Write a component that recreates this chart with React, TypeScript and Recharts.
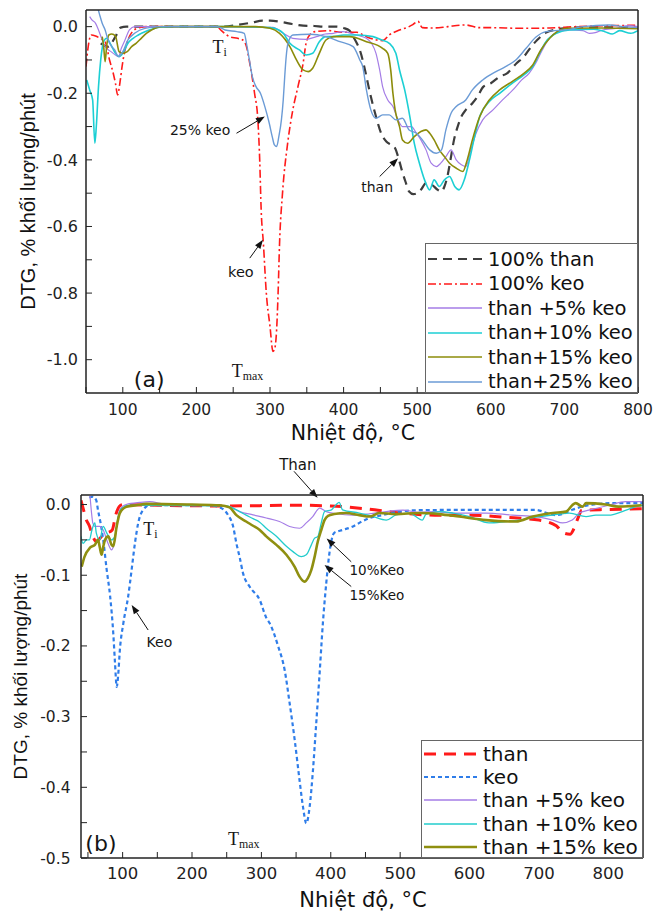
import React from 'react';
import { LineChart, Line, XAxis, YAxis, ReferenceDot, ReferenceLine, Legend } from 'recharts';

type Pt = [number, number];

// ---- panel (a): temperature (°C), DTG (%/min)
const aThan: Pt[] = [
  [70, -0.05], [80, -0.06], [90, -0.03], [97, -0.003], [105, 0], [150, 0], [232, 0], [255, 0.005],
  [275, 0.012], [290, 0.018], [300, 0.018], [315, 0.014], [330, 0.008], [345, 0.003], [360, 0.002],
  [375, 0], [390, 0], [400, -0.004], [408, -0.012], [413, -0.03], [418, -0.05], [422, -0.07],
  [427, -0.11], [431, -0.15], [437, -0.21], [444, -0.27], [451, -0.32], [458, -0.345], [465, -0.355],
  [470, -0.365], [474, -0.39], [479, -0.43], [484, -0.465], [489, -0.495], [495, -0.503], [500, -0.5],
  [505, -0.49], [512, -0.47], [520, -0.475], [528, -0.49], [533, -0.495], [537, -0.48], [541, -0.45],
  [546, -0.39], [550, -0.34], [555, -0.3], [560, -0.27], [566, -0.25], [575, -0.23], [582, -0.21],
  [590, -0.18], [600, -0.17], [612, -0.15], [622, -0.14], [635, -0.11], [645, -0.09], [655, -0.06],
  [663, -0.04], [675, -0.018], [690, -0.008], [710, -0.003], [750, -0.002], [800, -0.002],
];
const aKeo: Pt[] = [
  [50, -0.12], [53, -0.06], [57, -0.025], [63, -0.028], [69, -0.035], [76, -0.045], [82, -0.1],
  [87, -0.14], [90, -0.17], [93, -0.205], [96, -0.17], [99, -0.12], [102, -0.08], [107, -0.04],
  [113, -0.015], [120, -0.005], [132, 0], [180, 0], [228, 0], [234, -0.012], [245, -0.03], [256, -0.035],
  [263, -0.04], [268, -0.06], [272.5, -0.11], [279, -0.2], [283.5, -0.28], [286, -0.4], [288, -0.55],
  [291, -0.65], [295, -0.8], [300, -0.9], [304, -0.975], [306, -0.97], [309, -0.91], [311, -0.8],
  [313, -0.65], [317, -0.5], [324, -0.35], [331, -0.25], [338, -0.18], [345, -0.11], [349, -0.05],
  [354, -0.025], [361, -0.015], [380, -0.012], [396, -0.017], [418, -0.017], [431, -0.03], [445, -0.04],
  [453, -0.042], [462, -0.025], [476, -0.01], [489, 0], [494, 0.006], [501, 0.016], [507, -0.003],
  [521, -0.004], [535, -0.002], [548, 0.002], [566, 0.005], [584, -0.003], [600, -0.003], [640, -0.005],
  [680, -0.004], [715, 0], [760, 0.003], [800, 0.004],
];
const aMix5: Pt[] = [
  [55, 0.03], [58, 0.02], [63, 0.01], [67, -0.01], [72, -0.04], [76, -0.06], [84, -0.075], [90, -0.085],
  [94, -0.09], [98, -0.065], [103, -0.04], [109, -0.01], [116, 0], [200, 0], [290, -0.002], [304, -0.002],
  [318, -0.02], [331, -0.035], [349, -0.038], [363, -0.03], [375, -0.022], [386, -0.02], [399, -0.015],
  [417, -0.025], [431, -0.035], [438, -0.05], [444, -0.08], [449, -0.13], [453, -0.18], [460, -0.22],
  [467, -0.24], [474, -0.28], [480, -0.3], [492, -0.3], [499, -0.32], [505, -0.34], [512, -0.37],
  [519, -0.41], [526, -0.42], [532, -0.41], [539, -0.39], [546, -0.37], [553, -0.4], [560, -0.415],
  [566, -0.42], [573, -0.37], [580, -0.32], [589, -0.28], [603, -0.25], [616, -0.22], [630, -0.19],
  [642, -0.16], [652, -0.14], [661, -0.11], [670, -0.07], [680, -0.034], [693, -0.015], [707, -0.01],
  [725, -0.012], [734, -0.02], [742, -0.018], [752, -0.01], [770, -0.005], [788, 0.003], [800, 0],
];
const aMix10: Pt[] = [
  [51, -0.16], [55, -0.19], [59, -0.22], [62, -0.35], [64, -0.3], [67, -0.18], [70, -0.1], [74, -0.045],
  [78, -0.035], [84, -0.055], [90, -0.08], [95, -0.09], [100, -0.08], [107, -0.05], [114, -0.035],
  [121, -0.025], [130, -0.015], [139, -0.008], [150, -0.002], [170, 0], [250, 0], [300, -0.003],
  [312, -0.01], [318, -0.02], [327, -0.05], [340, -0.07], [349, -0.085], [358, -0.08], [367, -0.045],
  [376, -0.03], [386, -0.03], [400, -0.025], [420, -0.025], [440, -0.03], [452, -0.04], [462, -0.05],
  [471, -0.08], [476, -0.13], [483, -0.19], [490, -0.27], [496, -0.35], [503, -0.41], [510, -0.46],
  [517, -0.49], [523, -0.46], [530, -0.48], [537, -0.46], [544, -0.45], [551, -0.48], [557, -0.49],
  [564, -0.46], [571, -0.4], [578, -0.33], [585, -0.27], [598, -0.225], [612, -0.2], [629, -0.17],
  [645, -0.145], [657, -0.12], [665, -0.085], [675, -0.045], [689, -0.02], [707, -0.01], [740, -0.008],
  [755, -0.015], [765, -0.022], [775, -0.012], [790, -0.02], [800, -0.012],
];
const aMix15: Pt[] = [
  [72, -0.03], [74, -0.06], [76, -0.105], [78, -0.06], [81, -0.025], [85, -0.022], [90, -0.028],
  [95, -0.075], [100, -0.08], [106, -0.075], [112, -0.06], [118, -0.05], [125, -0.035], [132, -0.02],
  [139, -0.01], [153, 0], [280, 0], [300, -0.005], [313, -0.02], [327, -0.06], [336, -0.1], [345, -0.13],
  [352, -0.135], [358, -0.125], [367, -0.08], [376, -0.04], [386, -0.03], [408, -0.03], [431, -0.045],
  [453, -0.065], [460, -0.08], [464, -0.13], [467, -0.2], [470, -0.25], [476, -0.3], [480, -0.34],
  [487, -0.35], [496, -0.33], [505, -0.315], [512, -0.31], [517, -0.32], [523, -0.34], [530, -0.37],
  [537, -0.39], [544, -0.41], [553, -0.425], [562, -0.435], [568, -0.4], [575, -0.34], [585, -0.27],
  [598, -0.22], [612, -0.19], [629, -0.165], [645, -0.14], [657, -0.115], [668, -0.07], [680, -0.035],
  [690, -0.015], [703, -0.005], [750, -0.004], [800, -0.006],
];
const aMix25: Pt[] = [
  [60, 0.09], [64, 0.07], [68, 0.04], [72, 0.01], [76, -0.01], [80, -0.04], [85, -0.06], [89, -0.07],
  [94, -0.09], [100, -0.075], [107, -0.04], [116, -0.02], [130, -0.005], [150, 0], [229, 0],
  [239, -0.01], [255, -0.015], [265, -0.02], [268, -0.05], [272, -0.1], [276, -0.15], [281, -0.18],
  [287, -0.2], [293, -0.24], [299, -0.29], [303, -0.33], [306, -0.355], [309, -0.36], [312, -0.33],
  [315.5, -0.28], [318, -0.22], [320, -0.15], [322, -0.09], [324.5, -0.05], [331, -0.025], [354, -0.023],
  [376, -0.03], [395, -0.045], [413, -0.06], [422, -0.1], [426, -0.12], [431, -0.19], [437, -0.25],
  [444, -0.275], [453, -0.265], [462, -0.265], [471, -0.28], [480, -0.275], [489, -0.31], [499, -0.32],
  [507, -0.34], [517, -0.37], [526, -0.38], [533, -0.37], [539, -0.31], [546, -0.26], [553, -0.24],
  [566, -0.22], [575, -0.19], [589, -0.16], [607, -0.135], [620, -0.12], [634, -0.1], [648, -0.065],
  [661, -0.032], [675, -0.015], [707, -0.008], [725, 0], [761, 0.005], [780, 0], [800, -0.003],
];

// ---- panel (b)
const bThan: Pt[] = [
  [40, 0.006], [43, -0.005], [47, -0.02], [52, -0.03], [57, -0.045], [62, -0.052], [70, -0.045],
  [78, -0.04], [85, -0.036], [90, -0.015], [95, -0.003], [100, 0], [150, -0.001], [250, -0.002],
  [350, -0.001], [400, -0.002], [450, -0.006], [500, -0.012], [550, -0.015], [600, -0.015],
  [650, -0.018], [700, -0.022], [725, -0.03], [735, -0.04], [745, -0.042], [750, -0.035], [756, -0.02],
  [762, -0.008], [800, -0.007], [850, -0.006],
];
const bKeo: Pt[] = [
  [52, 0.01], [57, 0.011], [62, 0.006], [64.5, -0.008], [68, -0.025], [72, -0.05], [77, -0.092],
  [82, -0.13], [86.5, -0.182], [89, -0.224], [91.5, -0.258], [93.7, -0.24], [96, -0.206], [101, -0.168],
  [108, -0.13], [113, -0.092], [117.7, -0.055], [122.5, -0.026], [129.6, -0.0075], [139, -0.001],
  [225, -0.001], [240, -0.004], [252, -0.015], [259, -0.03], [264, -0.055], [268.8, -0.075],
  [273.5, -0.097], [283, -0.116], [297.6, -0.135], [307, -0.16], [312, -0.168], [324, -0.2],
  [333.5, -0.234], [340.7, -0.281], [348, -0.333], [355, -0.39], [360, -0.428], [364.7, -0.451],
  [369.5, -0.428], [374, -0.38], [379, -0.31], [383.9, -0.239], [388.6, -0.168], [393.5, -0.111],
  [398, -0.069], [405, -0.04], [417, -0.036], [432, -0.031], [441, -0.026], [456, -0.019],
  [474.5, -0.015], [499, -0.01], [528, -0.008], [600, -0.0075], [695, -0.0075], [712, -0.012],
  [725, -0.015], [735, -0.013], [748, -0.0075], [777, 0], [806, 0.002], [850, 0.002],
];
const bMix5: Pt[] = [
  [53, 0.012], [55, -0.01], [57, -0.026], [60, -0.031], [67, -0.031], [72, -0.036], [79, -0.055],
  [84, -0.064], [87, -0.058], [91.4, -0.031], [96, -0.0075], [105, 0], [125, 0.003], [139, 0.004],
  [160, 0.001], [200, 0], [240, -0.001], [254, -0.003], [268.8, -0.01], [288, -0.0146], [307, -0.019],
  [326, -0.024], [340.7, -0.031], [355, -0.0335], [364.7, -0.026], [374, -0.017], [383.9, -0.005],
  [393.5, -0.01], [408, -0.013], [432, -0.015], [456, -0.013], [480, -0.01], [504, -0.008],
  [528, -0.011], [552, -0.01], [576, -0.012], [624, -0.012], [662, -0.015], [696, -0.017],
  [720, -0.022], [734, -0.026], [748, -0.022], [758, -0.012], [772, -0.008], [801, -0.001],
  [825, 0.004], [850, 0.004],
];
const bMix10: Pt[] = [
  [40, -0.045], [43, -0.055], [48, -0.05], [52, -0.05], [56, -0.035], [60, -0.026], [62, -0.04],
  [67, -0.05], [72, -0.031], [77, -0.04], [84, -0.05], [89, -0.045], [93.7, -0.017], [98.5, -0.0055],
  [110, -0.001], [250, -0.002], [264, -0.0075], [278, -0.015], [288, -0.02], [297.6, -0.025],
  [307, -0.0335], [321.6, -0.045], [336, -0.059], [345.5, -0.0666], [357.5, -0.0737], [364.7, -0.071],
  [372, -0.057], [376.7, -0.0476], [381.4, -0.045], [386.3, -0.026], [391, -0.01], [401, -0.0075],
  [408, 0], [412, 0.003], [417, -0.0075], [441, -0.012], [460, -0.0167], [480, -0.022], [494, -0.0146],
  [513, -0.012], [532, -0.022], [537, -0.014], [556, -0.01], [576, -0.012], [600, -0.017], [628, -0.026],
  [652, -0.024], [671, -0.022], [700, -0.017], [720, -0.015], [744, -0.012], [768, -0.017],
  [782, -0.015], [801, -0.015], [820, -0.01], [840, -0.003], [850, -0.001],
];
const bMix15: Pt[] = [
  [41, -0.088], [45, -0.074], [53, -0.061], [60, -0.057], [64.5, -0.05], [67, -0.06], [69.7, -0.071],
  [72, -0.06], [74.6, -0.05], [79.3, -0.045], [84, -0.057], [86.5, -0.059], [91.4, -0.031], [96, -0.012],
  [105.6, -0.003], [120, -0.001], [134, 0.001], [200, 0], [240, -0.001], [254, -0.004], [264, -0.015],
  [278, -0.024], [288, -0.03], [297.6, -0.036], [307, -0.045], [321.6, -0.057], [336, -0.071],
  [348, -0.088], [355, -0.102], [362, -0.109], [367, -0.104], [372, -0.0925], [376.7, -0.074],
  [381.4, -0.052], [386.3, -0.036], [391, -0.022], [396, -0.016], [405, -0.0135], [422, -0.012],
  [441, -0.015], [456, -0.017], [470, -0.012], [494, -0.0135], [528, -0.012], [556, -0.0135],
  [585, -0.017], [624, -0.022], [667, -0.024], [691, -0.017], [720, -0.012], [739, -0.01],
  [748, -0.001], [753, 0.002], [763, -0.003], [768, 0.002], [796, 0], [815, -0.003], [848, -0.001],
];

const aNames = ['100% than', '100% keo', 'than +5% keo', 'than+10% keo', 'than+15% keo', 'than+25% keo'];
const bNames = ['than', 'keo', 'than +5% keo', 'than +10% keo', 'than +15% keo'];

const aXTicks = [50, 100, 150, 200, 250, 300, 350, 400, 450, 500, 550, 600, 650, 700, 750, 800];
const aYTicks = [0, -0.1, -0.2, -0.3, -0.4, -0.5, -0.6, -0.7, -0.8, -0.9, -1.0];
const bXTicks = [50, 100, 150, 200, 250, 300, 350, 400, 450, 500, 550, 600, 650, 700, 750, 800];
const bYTicks = [0, -0.05, -0.1, -0.15, -0.2, -0.25, -0.3, -0.35, -0.4, -0.45, -0.5];

const X_TITLE = 'Nhiệt độ, °C';
const Y_TITLE = 'DTG, % khối lượng/phút';

type LineStyle = { stroke: string; width: number; dash?: string };

const aStyles: LineStyle[] = [
  { stroke: '#3d3d3d', width: 2.2, dash: '9 6' },
  { stroke: '#ff1a1a', width: 1.6, dash: '8 3 2 3' },
  { stroke: '#a57de6', width: 1.2 },
  { stroke: '#1ccfd4', width: 1.6 },
  { stroke: '#8c8c0a', width: 1.6 },
  { stroke: '#6b9bd6', width: 1.4 },
];
const bStyles: LineStyle[] = [
  { stroke: '#ff1a1a', width: 3, dash: '12 8' },
  { stroke: '#2f7de9', width: 2.2, dash: '4 3' },
  { stroke: '#a57de6', width: 1.2 },
  { stroke: '#22cccc', width: 1.3 },
  { stroke: '#8f8f10', width: 2.6 },
];

type Note = { t: number; v: number; text: string; sub?: string; size: number; serif?: boolean };
type Arrow = { from: [number, number]; to: [number, number] };

const aNotes: Note[] = [
  { t: 222, v: -0.08, text: 'T', sub: 'i', size: 18, serif: true },
  { t: 248, v: -1.052, text: 'T', sub: 'max', size: 18, serif: true },
  { t: 164, v: -0.325, text: '25% keo', size: 14 },
  { t: 243, v: -0.751, text: 'keo', size: 14.5 },
  { t: 424, v: -0.495, text: 'than', size: 14 },
  { t: 115, v: -1.081, text: '(a)', size: 22 },
];
const aArrows: Arrow[] = [
  { from: [254.5, -0.32], to: [293, -0.27] },
  { from: [272.5, -0.695], to: [290.5, -0.64] },
  { from: [449, -0.45], to: [474, -0.395] },
];
const bNotes: Note[] = [
  { t: 129.6, v: -0.043, text: 'T', sub: 'i', size: 18, serif: true },
  { t: 252, v: -0.482, text: 'T', sub: 'max', size: 18, serif: true },
  { t: 325.6, v: 0.049, text: 'Than', size: 15 },
  { t: 134.5, v: -0.201, text: 'Keo', size: 14 },
  { t: 427, v: -0.0996, text: '10%Keo', size: 13.5 },
  { t: 427, v: -0.135, text: '15%Keo', size: 13.5 },
  { t: 46.3, v: -0.49, text: '(b)', size: 22 },
];
const bArrows: Arrow[] = [
  { from: [347, 0.047], to: [381, 0.0095] },
  { from: [136.8, -0.1775], to: [113, -0.142] },
  { from: [429.5, -0.081], to: [394, -0.048] },
  { from: [429.5, -0.116], to: [391, -0.0854] },
];

const SANS = '"DejaVu Sans", sans-serif';
const ARIAL = '"Liberation Sans", Arial, sans-serif';
const SERIF = '"Liberation Serif", "Times New Roman", serif';

const toRows = (pts: Pt[]) => pts.map(([t, v]) => ({ t, v }));

const ArrowShape = (p: any) => {
  const { x1, y1, x2, y2 } = p;
  const a = Math.atan2(y2 - y1, x2 - x1);
  const len = 9;
  const half = 3.3;
  const bx = x2 - len * Math.cos(a);
  const by = y2 - len * Math.sin(a);
  const nx = -Math.sin(a) * half;
  const ny = Math.cos(a) * half;
  return (
    <g>
      <line x1={x1} y1={y1} x2={bx} y2={by} stroke="#111" strokeWidth={1} />
      <polygon points={`${x2},${y2} ${bx + nx},${by + ny} ${bx - nx},${by - ny}`} fill="#111" />
    </g>
  );
};

const noteShape = (n: Note) => (p: any) => (
  <text x={p.cx} y={p.cy} fontFamily={n.serif ? SERIF : SANS} fontSize={n.size} fill="#151515">
    {n.text}
    {n.sub && (
      <tspan fontSize={n.size * 0.66} dy={3}>
        {n.sub}
      </tspan>
    )}
  </text>
);

type Layout = {
  width: number;
  height: number;
  margin: { top: number; right: number; bottom: number; left: number };
  yAxisWidth: number;
  xAxisHeight: number;
  xDomain: [number, number];
  yDomain: [number, number];
  xTickFont: number;
  yTickFont: number;
  xTickMargin: number;
  yTickMargin: number;
  xTitleOffset: number;
  xTitleDx: number;
  xTitleSize: number;
  yTitleOffset: number;
  yTitleSize: number;
  legend: { left: number; top: number; width: number; height: number; font: number; row: number; pad: number; sample: number };
};

const aLayout: Layout = {
  width: 669, height: 455,
  margin: { top: 9, right: 30, bottom: 0, left: 0 },
  yAxisWidth: 86, xAxisHeight: 62,
  xDomain: [50, 800], yDomain: [-1.1, 0.05],
  xTickFont: 15.5, yTickFont: 16, xTickMargin: 17, yTickMargin: 14,
  xTitleOffset: 15, xTitleDx: -9, xTitleSize: 20.5,
  yTitleOffset: 28, yTitleSize: 20,
  legend: { left: 425, top: 243, width: 213, height: 150, font: 19.5, row: 24.5, pad: 3, sample: 54 },
};
const bLayout: Layout = {
  width: 669, height: 458,
  margin: { top: 39, right: 25, bottom: 0, left: 0 },
  yAxisWidth: 81, xAxisHeight: 55,
  xDomain: [40, 850], yDomain: [-0.5, 0.0135],
  xTickFont: 16.5, yTickFont: 15.5, xTickMargin: 15, yTickMargin: 16.5,
  xTitleOffset: 6, xTitleDx: 1, xTitleSize: 21,
  yTitleOffset: 20.5, yTitleSize: 19,
  legend: { left: 421, top: 285, width: 222, height: 118, font: 20, row: 23.3, pad: 1, sample: 53 },
};

const axisLine = { stroke: '#222', strokeWidth: 1.5 };

type PanelProps = {
  layout: Layout;
  series: Pt[][];
  names: string[];
  styles: LineStyle[];
  xTicks: number[];
  yTicks: number[];
  xFmt: (v: number) => string;
  yFmt: (v: number) => string;
  notes: Note[];
  arrows: Arrow[];
};

const Panel: React.FC<PanelProps> = ({ layout: L, series, names, styles, xTicks, yTicks, xFmt, yFmt, notes, arrows }) => {
  const lg = L.legend;
  const renderLegend = () => (
    <div
      style={{
        width: lg.width,
        height: lg.height,
        boxSizing: 'border-box',
        border: '1.5px solid #666',
        background: '#fff',
        paddingTop: lg.pad,
        paddingLeft: 2,
        fontFamily: SANS,
        fontSize: lg.font,
        color: '#111',
        whiteSpace: 'nowrap',
      }}
    >
      {names.map((name, i) => (
        <div key={name} style={{ height: lg.row, display: 'flex', alignItems: 'center' }}>
          <svg width={lg.sample} height={10} style={{ marginRight: 6, flex: 'none' }}>
            <line
              x1={0}
              y1={5}
              x2={lg.sample}
              y2={5}
              stroke={styles[i].stroke}
              strokeWidth={Math.max(styles[i].width, 1.5)}
              strokeDasharray={styles[i].dash}
            />
          </svg>
          <span>{name}</span>
        </div>
      ))}
    </div>
  );

  return (
    <LineChart width={L.width} height={L.height} margin={L.margin}>
      <XAxis
        dataKey="t"
        type="number"
        domain={L.xDomain}
        allowDataOverflow
        ticks={xTicks}
        interval={0}
        tickFormatter={xFmt}
        tickSize={-6}
        tickMargin={L.xTickMargin}
        height={L.xAxisHeight}
        axisLine={axisLine}
        tickLine={{ stroke: '#222' }}
        tick={{ fontSize: L.xTickFont, fontFamily: SANS, fill: '#222' }}
        label={{
          value: X_TITLE,
          position: 'insideBottom',
          offset: L.xTitleOffset,
          dx: L.xTitleDx,
          style: { fontSize: L.xTitleSize, fontFamily: SANS, fill: '#111' },
        }}
      />
      <XAxis
        xAxisId="top"
        orientation="top"
        type="number"
        domain={L.xDomain}
        allowDataOverflow
        ticks={xTicks}
        interval={0}
        tick={false}
        tickSize={-6}
        height={1}
        axisLine={axisLine}
        tickLine={{ stroke: '#222' }}
      />
      <YAxis
        type="number"
        domain={L.yDomain}
        allowDataOverflow
        ticks={yTicks}
        interval={0}
        tickFormatter={yFmt}
        tickSize={-6}
        tickMargin={L.yTickMargin}
        width={L.yAxisWidth}
        axisLine={axisLine}
        tickLine={{ stroke: '#222' }}
        tick={{ fontSize: L.yTickFont, fontFamily: SANS, fill: '#222' }}
        label={{
          value: Y_TITLE,
          angle: -90,
          position: 'insideLeft',
          offset: L.yTitleOffset,
          style: { textAnchor: 'middle', fontSize: L.yTitleSize, fontFamily: ARIAL, fill: '#111' },
        }}
      />
      <YAxis
        yAxisId="right"
        orientation="right"
        type="number"
        domain={L.yDomain}
        allowDataOverflow
        ticks={yTicks}
        interval={0}
        tick={false}
        tickSize={-6}
        width={1}
        axisLine={axisLine}
        tickLine={{ stroke: '#222' }}
      />
      {series.map((pts, i) => (
        <Line
          key={names[i]}
          name={names[i]}
          data={toRows(pts)}
          dataKey="v"
          type="monotone"
          stroke={styles[i].stroke}
          strokeWidth={styles[i].width}
          strokeDasharray={styles[i].dash}
          dot={false}
          activeDot={false}
          isAnimationActive={false}
        />
      ))}
      {arrows.map((a, i) => (
        <ReferenceLine
          key={`arrow-${i}`}
          segment={[
            { x: a.from[0], y: a.from[1] },
            { x: a.to[0], y: a.to[1] },
          ]}
          ifOverflow="visible"
          shape={ArrowShape}
        />
      ))}
      {notes.map((n, i) => (
        <ReferenceDot key={`note-${i}`} x={n.t} y={n.v} r={1} ifOverflow="visible" shape={noteShape(n)} />
      ))}
      <Legend
        layout="vertical"
        align="center"
        verticalAlign="middle"
        content={renderLegend}
        wrapperStyle={{ left: lg.left, top: lg.top, width: lg.width, height: lg.height }}
      />
    </LineChart>
  );
};

const fmtA_X = (v: number) => (v % 100 === 0 ? String(v) : '');
const fmtA_Y = (v: number) => (Math.round(v * 10) % 2 === 0 ? v.toFixed(1) : '');
const fmtB_X = (v: number) => (v % 100 === 0 ? String(v) : '');
const fmtB_Y = (v: number) => (Math.round(v * 100) % 10 === 0 ? v.toFixed(1) : '');

export default function App() {
  return (
    <div style={{ position: 'absolute', left: 0, top: 0, width: 669, height: 913, background: '#fff' }}>
      <div style={{ position: 'absolute', left: 0, top: 0 }}>
        <Panel
          layout={aLayout}
          series={[aThan, aKeo, aMix5, aMix10, aMix15, aMix25]}
          names={aNames}
          styles={aStyles}
          xTicks={aXTicks}
          yTicks={aYTicks}
          xFmt={fmtA_X}
          yFmt={fmtA_Y}
          notes={aNotes}
          arrows={aArrows}
        />
      </div>
      <div style={{ position: 'absolute', left: 0, top: 455 }}>
        <Panel
          layout={bLayout}
          series={[bThan, bKeo, bMix5, bMix10, bMix15]}
          names={bNames}
          styles={bStyles}
          xTicks={bXTicks}
          yTicks={bYTicks}
          xFmt={fmtB_X}
          yFmt={fmtB_Y}
          notes={bNotes}
          arrows={bArrows}
        />
      </div>
    </div>
  );
}
